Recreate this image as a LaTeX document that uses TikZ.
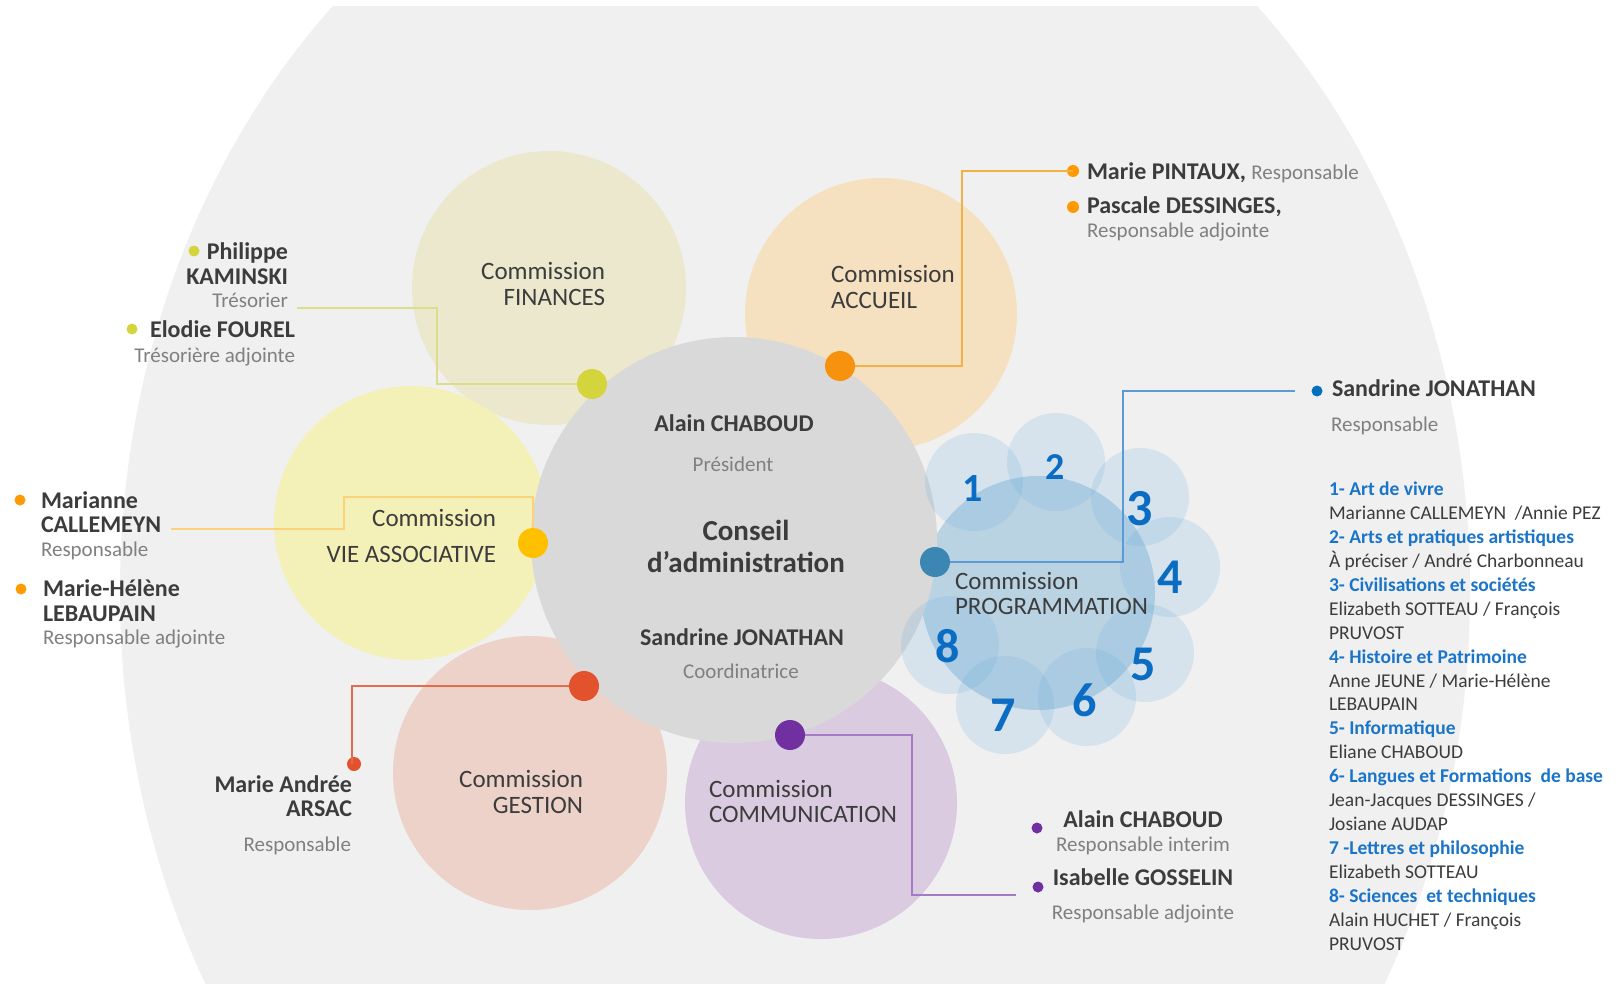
\documentclass[tikz,border=0pt]{standalone}
\usepackage{fontspec}
\setmainfont{Carlito}
\definecolor{bggrey}{HTML}{F0F0F0}
\definecolor{cfinc}{HTML}{EBE8CE}
\definecolor{caccc}{HTML}{F5E0C0}
\definecolor{cviec}{HTML}{F3F1B8}
\definecolor{cgestc}{HTML}{ECD2C8}
\definecolor{ccommc}{HTML}{DACBE1}
\definecolor{ccentre}{HTML}{D9D9D9}
\definecolor{cprogc}{HTML}{B9D3E3}
\definecolor{cpetal}{RGB}{110,175,220}
\definecolor{dfinc}{HTML}{D4D43C}
\definecolor{daccc}{HTML}{F7920F}
\definecolor{dviec}{HTML}{FFC000}
\definecolor{dgestc}{HTML}{E2532D}
\definecolor{dcommc}{HTML}{7030A0}
\definecolor{dprogc}{HTML}{3C86B4}
\definecolor{sorange}{HTML}{FF9A00}
\definecolor{sblue}{HTML}{0070C0}
\definecolor{lfinc}{HTML}{DCDC8C}
\definecolor{laccc}{HTML}{F4B042}
\definecolor{lviec}{HTML}{FAD27A}
\definecolor{lgestc}{HTML}{E66A4B}
\definecolor{lcommc}{HTML}{A57BC8}
\definecolor{lprogc}{HTML}{5B9BD5}
\definecolor{txtdark}{HTML}{3C3C3C}
\definecolor{txtgray}{HTML}{808080}
\definecolor{lblue}{HTML}{1A75C9}
\definecolor{numblue}{HTML}{0A6CC2}
\begin{document}
\begin{tikzpicture}[x=1pt,y=-1pt,
  every node/.style={inner sep=0pt, outer sep=0pt},
  bubble/.style={circle, draw=none},
  petal/.style={circle, draw=none, fill=cpetal, fill opacity=0.2, minimum size=98},
  bigdot/.style={circle, draw=none, minimum size=30},
  smalldot/.style={circle, draw=none, minimum size=11},
  conn/.style={line width=2pt},
  pname/.style={font=\fontsize{24}{28}\selectfont\bfseries, text=txtdark},
  prole/.style={font=\fontsize{21}{25}\selectfont, text=txtgray},
  clabel/.style={font=\fontsize{25}{30}\selectfont, text=txtdark},
  lhead/.style={font=\fontsize{19.5}{23}\selectfont\bfseries, text=lblue, anchor=mid west},
  lbody/.style={font=\fontsize{19.5}{23}\selectfont, text=txtdark, anchor=mid west},
  numlab/.style={text=numblue, anchor=center}
]
\useasboundingbox (0,0) rectangle (1624,984);
\fill[white] (0,0) rectangle (1624,984);
\begin{scope}
  \clip (0,7) rectangle (1624,984);
  \fill[bggrey] (795,592) ellipse [x radius=675, y radius=804];
\end{scope}

% commission circles
\node[bubble, fill=cfinc, minimum size=274] (cfin) at (549,288) {};
\node[bubble, fill=caccc, minimum size=272] (cacc) at (881,314) {};
\node[bubble, fill=cviec, minimum size=274] (cvie) at (411,523) {};
\node[bubble, fill=cgestc, minimum size=274] (cgest) at (530,773) {};
\node[bubble, fill=ccommc, minimum size=272] (ccomm) at (821,803) {};
\node[bubble, fill=cprogc, minimum size=234] (cprog) at (1038,593) {};
% central circle
\node[bubble, fill=ccentre, minimum size=406] (centre) at (734,540) {};
% petals
\node[petal] (p1) at (974,482) {};
\node[petal] (p2) at (1056,462) {};
\node[petal] (p3) at (1140,497) {};
\node[petal, minimum size=100] (p4) at (1170,567) {};
\node[petal] (p5) at (1145,653) {};
\node[petal] (p6) at (1087,697) {};
\node[petal] (p7) at (1005,705) {};
\node[petal] (p8) at (950,645) {};

% petal numbers
\node[numlab, font=\fontsize{40}{40}\selectfont\bfseries] (n1) at (973,489) {1};
\node[numlab, font=\fontsize{38}{38}\selectfont\bfseries] (n2) at (1055,467) {2};
\node[numlab, font=\fontsize{52}{52}\selectfont\bfseries] (n3) at (1140,509) {3};
\node[numlab, font=\fontsize{50}{50}\selectfont\bfseries] (n4) at (1170,577) {4};
\node[numlab, font=\fontsize{50}{50}\selectfont\bfseries] (n5) at (1143,664) {5};
\node[numlab, font=\fontsize{48}{48}\selectfont\bfseries] (n6) at (1085,700) {6};
\node[numlab, font=\fontsize{50}{50}\selectfont\bfseries] (n7) at (1003,715) {7};
\node[numlab, font=\fontsize{48}{48}\selectfont\bfseries] (n8) at (948,646) {8};

% dots (positions)
\coordinate (pdfin) at (592,384);
\coordinate (pdacc) at (840,366);
\coordinate (pdvie) at (533,543);
\coordinate (pdgest) at (584,686);
\coordinate (pdcomm) at (790,735);
\coordinate (pdprog) at (935,562);

% small dots
\node[smalldot, fill=dfinc] (sfin1) at (194,251) {};
\node[smalldot, fill=dfinc] (sfin2) at (132,329) {};
\node[smalldot, fill=sorange, minimum size=12] (sacc1) at (1073,171) {};
\node[smalldot, fill=sorange, minimum size=12] (sacc2) at (1073,207) {};
\node[smalldot, fill=sorange] (svie1) at (20,500) {};
\node[smalldot, fill=sorange] (svie2) at (21,589) {};
\node[smalldot, fill=dgestc, minimum size=14] (sgest) at (354,764) {};
\node[smalldot, fill=dcommc] (scomm1) at (1037,828) {};
\node[smalldot, fill=dcommc] (scomm2) at (1038,887) {};
\node[smalldot, fill=sblue] (sprog) at (1317,391) {};

% connectors
\coordinate (finA) at (437,384);
\coordinate (finEnd) at (297,308);
\draw[conn, draw=lfinc] (pdfin) -- (finA) |- (finEnd);
\coordinate (accA) at (962,366);
\draw[conn, draw=laccc] (pdacc) -- (accA) |- (sacc1.center);
\coordinate (vieA) at (533,497);
\coordinate (vieB) at (344,497);
\coordinate (vieEnd) at (171,529);
\draw[conn, draw=lviec] (pdvie) -- (vieA) -- (vieB) |- (vieEnd);
\coordinate (gestA) at (352,686);
\draw[conn, draw=lgestc] (pdgest) -- (gestA) -- (gestA |- sgest.center);
\coordinate (commA) at (912,735);
\coordinate (commEnd) at (1016,895);
\draw[conn, draw=lcommc] (pdcomm) -- (commA) |- (commEnd);
\coordinate (progA) at (1123,562);
\coordinate (progEnd) at (1295,391);
\draw[conn, draw=lprogc] (pdprog) -- (progA) |- (progEnd);

% big dots
\node[bigdot, fill=dfinc] (dfin) at (pdfin) {};
\node[bigdot, fill=daccc] (dacc) at (pdacc) {};
\node[bigdot, fill=dviec] (dvie) at (pdvie) {};
\node[bigdot, fill=dgestc] (dgest) at (pdgest) {};
\node[bigdot, fill=dcommc] (dcomm) at (pdcomm) {};
\node[bigdot, fill=dprogc] (dprog) at (pdprog) {};

% commission labels
\node[clabel, anchor=mid east] (tfin1) at (605,277) {Commission};
\node[clabel, anchor=mid east] (tfin2) at (605,303) {FINANCES};
\node[clabel, anchor=mid west] (tacc1) at (831,280) {Commission};
\node[clabel, anchor=mid west] (tacc2) at (831,306) {ACCUEIL};
\node[clabel, anchor=mid east] (tvie1) at (496,524) {Commission};
\node[clabel, anchor=mid east] (tvie2) at (496,560) {VIE ASSOCIATIVE};
\node[clabel, anchor=mid east] (tgest1) at (583,785) {Commission};
\node[clabel, anchor=mid east] (tgest2) at (583,811) {GESTION};
\node[clabel, anchor=mid west] (tcomm1) at (709,795) {Commission};
\node[clabel, anchor=mid west] (tcomm2) at (709,820) {COMMUNICATION};
\node[clabel, anchor=mid west] (tprog1) at (955,587) {Commission};
\node[clabel, anchor=mid west] (tprog2) at (955,612) {PROGRAMMATION};

% centre texts
\node[pname, anchor=mid] (cpres) at (734,429) {Alain CHABOUD};
\node[prole, anchor=mid] (cpresr) at (733,469) {Président};
\node[text=txtdark, font=\fontsize{29}{34}\selectfont\bfseries, anchor=mid] (cca1) at (746,538) {Conseil};
\node[text=txtdark, font=\fontsize{29}{34}\selectfont\bfseries, anchor=mid] (cca2) at (746,570) {d’administration};
\node[pname, anchor=mid] (ccoord) at (742,643) {Sandrine JONATHAN};
\node[prole, anchor=mid] (ccoordr) at (741,676) {Coordinatrice};

% finances people
\node[pname, anchor=mid east] (fp1) at (288,257) {Philippe};
\node[pname, anchor=mid east] (fp2) at (288,282) {KAMINSKI};
\node[prole, anchor=mid east] (fp3) at (288,305) {Trésorier};
\node[pname, anchor=mid east] (fp4) at (295,335) {Elodie FOUREL};
\node[prole, anchor=mid east] (fp5) at (295,360) {Trésorière adjointe};

% accueil people
\node[pname, anchor=mid west] (ap1) at (1087,177) {Marie PINTAUX, {\mdseries\color{txtgray}\fontsize{21}{25}\selectfont Responsable}};
\node[pname, anchor=mid west] (ap2) at (1087,211) {Pascale DESSINGES,};
\node[prole, anchor=mid west] (ap3) at (1087,235) {Responsable adjointe};

% vie associative people
\node[pname, anchor=mid west] (vp1) at (41,506) {Marianne};
\node[pname, anchor=mid west] (vp2) at (41,530) {CALLEMEYN};
\node[prole, anchor=mid west] (vp3) at (41,554) {Responsable};
\node[pname, anchor=mid west] (vp4) at (43,594) {Marie-Hélène};
\node[pname, anchor=mid west] (vp5) at (43,619) {LEBAUPAIN};
\node[prole, anchor=mid west] (vp6) at (43,642) {Responsable adjointe};

% gestion people
\node[pname, anchor=mid east] (gp1) at (352,790) {Marie Andrée};
\node[pname, anchor=mid east] (gp2) at (352,814) {ARSAC};
\node[prole, anchor=mid east] (gp3) at (351,849) {Responsable};

% communication people
\node[pname, anchor=mid] (kp1) at (1143,825) {Alain CHABOUD};
\node[prole, anchor=mid] (kp2) at (1143,849) {Responsable interim};
\node[pname, anchor=mid] (kp3) at (1143,883) {Isabelle GOSSELIN};
\node[prole, anchor=mid] (kp4) at (1143,917) {Responsable adjointe};

% programmation people
\node[pname, anchor=mid west] (pp1) at (1332,394) {Sandrine JONATHAN};
\node[prole, anchor=mid west] (pp2) at (1331,429) {Responsable};

% list
\node[lhead] (l1) at (1329,493.0) {1- Art de vivre};
\node[lbody] (l2) at (1329,517.0) {Marianne CALLEMEYN \ /Annie PEZ};
\node[lhead] (l3) at (1329,540.9) {2- Arts et pratiques artistiques};
\node[lbody] (l4) at (1329,564.9) {À préciser / André Charbonneau};
\node[lhead] (l5) at (1329,588.8) {3- Civilisations et sociétés};
\node[lbody] (l6) at (1329,612.8) {Elizabeth SOTTEAU / François};
\node[lbody] (l7) at (1329,636.8) {PRUVOST};
\node[lhead] (l8) at (1329,660.7) {4- Histoire et Patrimoine};
\node[lbody] (l9) at (1329,684.7) {Anne JEUNE / Marie-Hélène};
\node[lbody] (l10) at (1329,708.6) {LEBAUPAIN};
\node[lhead] (l11) at (1329,732.6) {5- Informatique};
\node[lbody] (l12) at (1329,756.6) {Eliane CHABOUD};
\node[lhead] (l13) at (1329,780.5) {6- Langues et Formations \ de base};
\node[lbody] (l14) at (1329,804.5) {Jean-Jacques DESSINGES /};
\node[lbody] (l15) at (1329,828.4) {Josiane AUDAP};
\node[lhead] (l16) at (1329,852.4) {7 -Lettres et philosophie};
\node[lbody] (l17) at (1329,876.4) {Elizabeth SOTTEAU};
\node[lhead] (l18) at (1329,900.3) {8- Sciences \ et techniques};
\node[lbody] (l19) at (1329,924.3) {Alain HUCHET / François};
\node[lbody] (l20) at (1329,948.2) {PRUVOST};
\end{tikzpicture}
\end{document}
